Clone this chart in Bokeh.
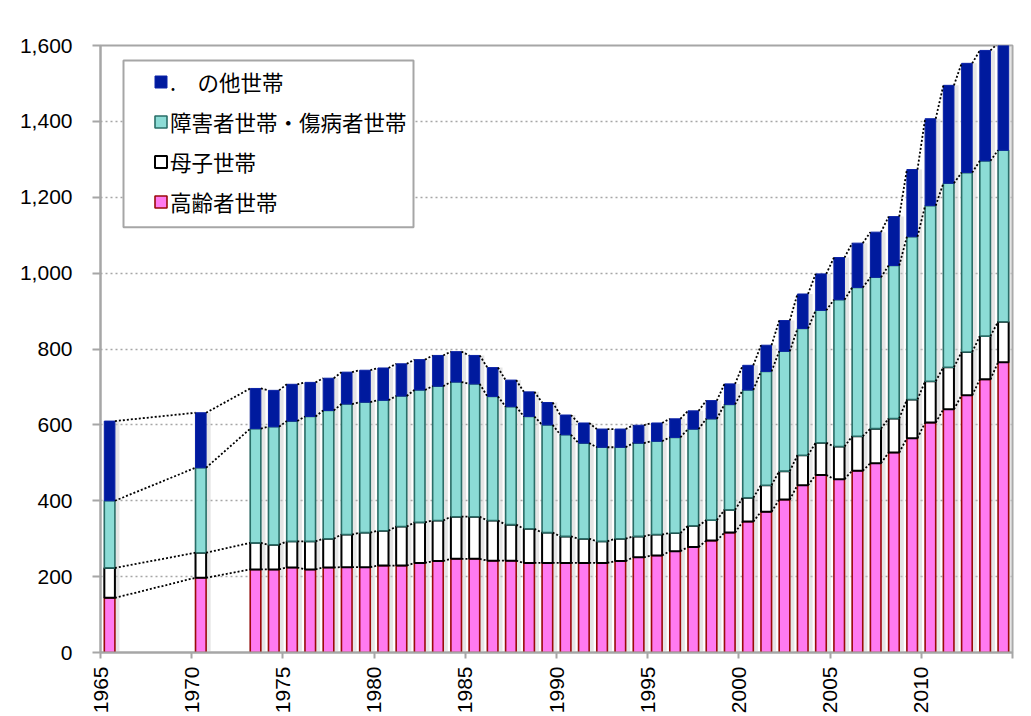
import math
from bokeh.plotting import figure
from bokeh.models import (Range1d, FixedTicker, NumeralTickFormatter, Legend,
                          LegendItem, ColumnDataSource, BoxAnnotation)
from bokeh.embed import file_html
from bokeh.resources import INLINE

# ---- data (thousand households) ----
years = [1965, 1970, 1973, 1974, 1975, 1976, 1977, 1978, 1979, 1980, 1981, 1982,
         1983, 1984, 1985, 1986, 1987, 1988, 1989, 1990, 1991, 1992, 1993, 1994,
         1995, 1996, 1997, 1998, 1999, 2000, 2001, 2002, 2003, 2004, 2005, 2006,
         2007, 2008, 2009, 2010, 2011, 2012, 2013, 2014]
elderly = [144, 197, 219, 219, 224, 219, 224, 225, 225, 229, 229, 236,
           241, 247, 247, 242, 242, 236, 236, 236, 236, 236, 241, 251,
           256, 267, 278, 295, 316, 345, 371, 403, 441, 468, 457, 479,
           499, 527, 565, 606, 641, 678, 720, 765]
mother = [79, 66, 70, 65, 69, 74, 76, 86, 91, 92, 103, 107,
          107, 111, 111, 106, 95, 90, 80, 70, 64, 57, 59, 55,
          55, 48, 56, 54, 60, 63, 70, 75, 79, 85, 86, 91,
          91, 90, 102, 109, 111, 114, 114, 107]
disabled = [177, 224, 301, 311, 317, 329, 338, 344, 344, 344, 344, 349,
            354, 355, 350, 327, 311, 296, 284, 268, 252, 248, 241, 246,
            246, 252, 255, 267, 278, 284, 300, 316, 334, 349, 387, 392,
            399, 403, 429, 463, 485, 473, 462, 452]
other = [210, 145, 106, 96, 97, 90, 85, 84, 84, 85, 85, 80,
         81, 80, 75, 76, 70, 65, 59, 52, 53, 48, 48, 47,
         48, 49, 48, 48, 54, 65, 69, 81, 91, 96, 111, 117,
         119, 129, 177, 229, 258, 288, 291, 282]
series_labels = [".\u3000の他世帯", "障害者世帯・傷病者世帯", "母子世帯", "高齢者世帯"]
y_ticks = [0, 200, 400, 600, 800, 1000, 1200, 1400, 1600]
x_ticks = [1965, 1970, 1975, 1980, 1985, 1990, 1995, 2000, 2005, 2010, 2015]

BAR_W = 0.58
xc = [y + 0.5 for y in years]
c1 = elderly
c2 = [a + b for a, b in zip(c1, mother)]
c3 = [a + b for a, b in zip(c2, disabled)]
c4 = [a + b for a, b in zip(c3, other)]

src = ColumnDataSource(dict(x=xc, xs=[v + 0.1 for v in xc], elderly=elderly, mother=mother,
                            disabled=disabled, other=other, total=c4))

W, H = 1031, 716
ML, MR, MT, MB = 100, 19, 45, 63
XR = Range1d(1965, 2015)
YR = Range1d(0, 1600)

p = figure(width=W, height=H, output_backend="svg", toolbar_location=None,
           x_range=XR, y_range=YR,
           min_border_left=ML, min_border_right=MR, min_border_top=MT, min_border_bottom=MB)
p.background_fill_color = "white"
p.border_fill_color = "white"
p.outline_line_color = "#a6a6a6"
p.outline_line_width = 2

FW, FH = W - ML - MR, H - MT - MB


def px_to_x(px):
    return XR.start + (px - ML) / FW * (XR.end - XR.start)


def py_to_y(py):
    return YR.start + (MT + FH - py) / FH * (YR.end - YR.start)


# grid
p.xgrid.visible = False
p.ygrid.ticker = FixedTicker(ticks=y_ticks)
p.ygrid.grid_line_color = "#a6a6a6"
p.ygrid.grid_line_dash = "2 3"
p.ygrid.grid_line_width = 1.5

# shadows
p.vbar(x="xs", width=BAR_W + 0.3, bottom=0, top="total", source=src,
       fill_color="#cccccc", fill_alpha=0.5, line_color=None)

rs = p.vbar_stack(["elderly", "mother", "disabled", "other"], x="x", width=BAR_W, source=src,
                  fill_color=["#FF7AF0", "#FFFFFF", "#8CDCD6", "#001A9E"],
                  line_color=["#9A0A0A", "#000000", "#2A6E68", "#0A22A8"],
                  line_width=[1.6, 2.0, 1.6, 1.0])

# series lines
sx0, sy0, sx1, sy1 = [], [], [], []
for lev in (c1, c2, c3, c4):
    for i in range(len(xc) - 1):
        sx0.append(xc[i] + BAR_W / 2)
        sy0.append(lev[i])
        sx1.append(xc[i + 1] - BAR_W / 2)
        sy1.append(lev[i + 1])
p.segment(x0=sx0, y0=sy0, x1=sx1, y1=sy1, line_color="black", line_width=1.8,
          line_dash="2 2")

# axes
p.yaxis.ticker = FixedTicker(ticks=y_ticks)
p.yaxis.formatter = NumeralTickFormatter(format="0,0")
p.yaxis.major_label_text_font = "Liberation Sans"
p.yaxis.major_label_text_font_size = "21px"
p.yaxis.major_label_text_color = "black"
p.yaxis.major_label_standoff = 20
p.yaxis.major_tick_out = 8
p.yaxis.major_tick_in = 0
p.yaxis.minor_tick_line_color = None
p.yaxis.axis_line_color = "#a6a6a6"
p.yaxis.axis_line_width = 2
p.yaxis.major_tick_line_color = "#a6a6a6"
p.yaxis.major_tick_line_width = 2

p.xaxis.ticker = FixedTicker(ticks=x_ticks)
p.xaxis.major_label_overrides = {2015: ""}
p.xaxis.major_label_orientation = math.pi / 2
p.xaxis.major_label_text_font = "Liberation Sans"
p.xaxis.major_label_text_font_size = "21px"
p.xaxis.major_label_text_color = "black"
p.xaxis.major_label_standoff = 8
p.xaxis.major_tick_out = 6
p.xaxis.major_tick_in = 0
p.xaxis.minor_tick_line_color = None
p.xaxis.axis_line_color = "#a6a6a6"
p.xaxis.axis_line_width = 2
p.xaxis.major_tick_line_color = "#a6a6a6"
p.xaxis.major_tick_line_width = 2

# legend frame (Excel-style box, positioned in pixels)
p.add_layout(BoxAnnotation(left=px_to_x(123), right=px_to_x(413),
                           top=py_to_y(60), bottom=py_to_y(227),
                           fill_color="white", fill_alpha=1,
                           line_color="#a6a6a6", line_width=2, line_alpha=1))

order = [3, 2, 1, 0]
items = [LegendItem(label=series_labels[k], renderers=[rs[i]]) for k, i in enumerate(order)]
legend = Legend(items=items, location=(53, 435))
legend.label_text_font = "Noto Sans CJK JP"
legend.label_text_font_size = "21.5px"
legend.label_text_color = "black"
legend.glyph_width = 15
legend.glyph_height = 15
legend.label_height = 15
legend.label_standoff = 2
legend.spacing = 9
legend.padding = 10
legend.border_line_color = None
legend.background_fill_alpha = 0
p.add_layout(legend, "center")

open("out.html", "w").write(file_html(p, INLINE))
